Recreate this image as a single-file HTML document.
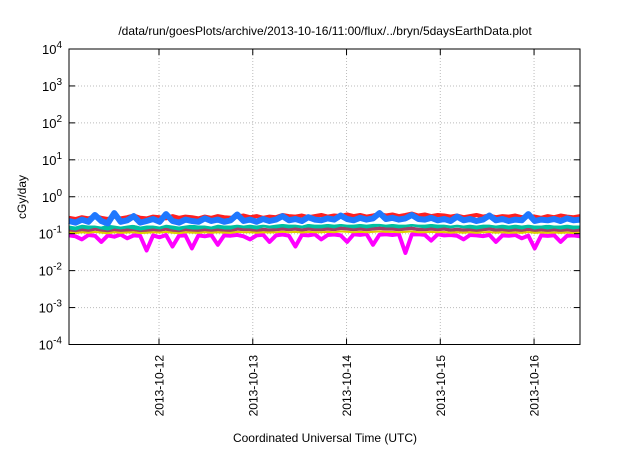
<!DOCTYPE html>
<html><head><meta charset="utf-8"><style>
body{margin:0;background:#fff;}
svg text{font-family:"Liberation Sans",sans-serif;fill:#000;}
</style></head><body>
<svg id="chart" width="640" height="448" xmlns="http://www.w3.org/2000/svg">
<text x="325" y="35" font-size="12" text-anchor="middle">/data/run/goesPlots/archive/2013-10-16/11:00/flux/../bryn/5daysEarthData.plot</text>
<g id="grid"></g>
<g id="series"></g>
<rect x="69" y="49" width="511" height="295.5" fill="none" stroke="#000" stroke-width="1"/>
<g id="axes"></g>
<text transform="translate(26,197) rotate(-90)" font-size="12" text-anchor="middle">cGy/day</text>
<text x="325" y="442" font-size="12" text-anchor="middle">Coordinated Universal Time (UTC)</text>
</svg>
<script>
const yExps=[-4,-3,-2,-1,0,1,2,3,4];
const xTickDays=[12,13,14,15,16];
const xTickLabels=["2013-10-12","2013-10-13","2013-10-14","2013-10-15","2013-10-16"];
const xStart=11.04, xEnd=16.49;
const red=[0.27,0.25,0.28,0.26,0.30,0.27,0.25,0.29,0.26,0.28,0.31,0.27,0.26,0.29,0.28,0.26,0.30,0.27,0.29,0.28,0.26,0.29,0.27,0.30,0.28,0.27,0.29,0.31,0.28,0.30,0.27,0.29,0.28,0.32,0.30,0.29,0.31,0.28,0.30,0.32,0.29,0.31,0.30,0.33,0.30,0.32,0.29,0.31,0.34,0.31,0.33,0.30,0.32,0.35,0.31,0.33,0.30,0.32,0.31,0.29,0.31,0.28,0.30,0.32,0.29,0.31,0.28,0.30,0.29,0.31,0.28,0.30,0.29,0.27,0.30,0.28,0.31,0.29,0.28,0.30];
const blue=[0.22,0.20,0.24,0.21,0.32,0.22,0.19,0.36,0.21,0.23,0.30,0.20,0.22,0.25,0.21,0.34,0.22,0.20,0.24,0.22,0.21,0.26,0.22,0.24,0.21,0.23,0.33,0.22,0.24,0.21,0.25,0.22,0.24,0.30,0.23,0.25,0.22,0.28,0.24,0.23,0.26,0.24,0.31,0.25,0.23,0.27,0.24,0.26,0.36,0.25,0.27,0.24,0.26,0.32,0.25,0.24,0.27,0.23,0.25,0.22,0.29,0.23,0.25,0.22,0.24,0.31,0.23,0.25,0.22,0.24,0.23,0.34,0.22,0.24,0.23,0.25,0.22,0.26,0.23,0.24];
const white=[0.18,0.17,0.19,0.18,0.18,0.17,0.19,0.18,0.17,0.18,0.19,0.17,0.18,0.18,0.17,0.19,0.18,0.17,0.18,0.19,0.18,0.18,0.17,0.19,0.18,0.18,0.19,0.18,0.19,0.18,0.19,0.18,0.19,0.20,0.19,0.19,0.18,0.20,0.19,0.19,0.20,0.19,0.20,0.19,0.19,0.20,0.19,0.20,0.20,0.19,0.20,0.19,0.19,0.20,0.19,0.19,0.20,0.19,0.19,0.18,0.19,0.18,0.19,0.18,0.19,0.19,0.18,0.19,0.18,0.19,0.18,0.19,0.18,0.18,0.19,0.18,0.18,0.19,0.18,0.18];
const teal=[0.15,0.14,0.16,0.15,0.17,0.15,0.14,0.16,0.15,0.16,0.15,0.14,0.15,0.16,0.15,0.17,0.15,0.14,0.16,0.15,0.15,0.16,0.15,0.16,0.15,0.15,0.17,0.16,0.16,0.15,0.17,0.16,0.16,0.17,0.16,0.17,0.16,0.17,0.16,0.16,0.17,0.16,0.18,0.17,0.16,0.17,0.16,0.17,0.18,0.17,0.17,0.16,0.17,0.18,0.17,0.16,0.17,0.16,0.17,0.16,0.17,0.16,0.16,0.15,0.16,0.17,0.16,0.16,0.15,0.16,0.15,0.17,0.15,0.16,0.15,0.16,0.15,0.16,0.15,0.16];
const purple=[0.125,0.12,0.13,0.12,0.135,0.125,0.115,0.13,0.12,0.125,0.13,0.12,0.12,0.13,0.125,0.135,0.12,0.115,0.13,0.125,0.12,0.13,0.12,0.13,0.125,0.12,0.135,0.13,0.13,0.12,0.13,0.125,0.13,0.135,0.13,0.135,0.125,0.135,0.13,0.13,0.135,0.13,0.14,0.135,0.13,0.135,0.13,0.135,0.14,0.135,0.135,0.13,0.135,0.14,0.13,0.13,0.135,0.13,0.135,0.125,0.13,0.125,0.13,0.12,0.13,0.135,0.125,0.13,0.12,0.13,0.12,0.135,0.12,0.13,0.12,0.13,0.12,0.13,0.12,0.125];
const yellow=[0.108,0.104,0.11,0.105,0.112,0.107,0.103,0.11,0.105,0.108,0.11,0.104,0.106,0.11,0.107,0.112,0.106,0.103,0.109,0.107,0.105,0.11,0.106,0.109,0.107,0.105,0.112,0.109,0.11,0.106,0.11,0.108,0.11,0.113,0.109,0.112,0.108,0.112,0.11,0.109,0.112,0.11,0.115,0.112,0.109,0.112,0.11,0.112,0.115,0.112,0.112,0.109,0.112,0.115,0.11,0.109,0.112,0.109,0.111,0.106,0.11,0.106,0.109,0.105,0.109,0.111,0.106,0.109,0.105,0.108,0.105,0.111,0.105,0.108,0.105,0.108,0.105,0.108,0.104,0.107];
const magenta=[0.09,0.085,0.07,0.092,0.088,0.06,0.09,0.083,0.095,0.075,0.09,0.087,0.035,0.09,0.08,0.092,0.045,0.088,0.09,0.04,0.09,0.085,0.092,0.05,0.09,0.088,0.093,0.085,0.07,0.09,0.094,0.06,0.09,0.095,0.088,0.045,0.093,0.09,0.096,0.07,0.092,0.095,0.09,0.06,0.096,0.093,0.098,0.05,0.094,0.096,0.092,0.097,0.03,0.095,0.097,0.093,0.065,0.096,0.09,0.092,0.088,0.07,0.092,0.09,0.086,0.093,0.06,0.09,0.088,0.092,0.075,0.089,0.04,0.09,0.087,0.091,0.06,0.088,0.09,0.085];
const L=69,R=580,T=49,B=344.5;
function xs(d){return L+(d-xStart)/(xEnd-xStart)*(R-L);}
function ys(v){return T+(4-Math.log10(v))/8*(B-T);}
const NS="http://www.w3.org/2000/svg";
function mk(tag,attrs,parent){const e=document.createElementNS(NS,tag);for(const k in attrs)e.setAttribute(k,attrs[k]);parent.appendChild(e);return e;}
const grid=document.getElementById('grid'),axes=document.getElementById('axes'),ser=document.getElementById('series');
yExps.forEach(p=>{const y=ys(Math.pow(10,p));
 if(p>-4&&p<4){const g=mk('line',{x1:L,x2:R,y1:y,y2:y,stroke:'#bbb','stroke-dasharray':'1,2'},grid);
 
 }
 const t1=mk('line',{x1:L,x2:L+6,y1:y,y2:y,stroke:'#000'},axes);
 
 
 const t2=mk('line',{x1:R-6,x2:R,y1:y,y2:y,stroke:'#000'},axes);
 
 
 const tx=mk('text',{x:L-7,y:y+5,'font-size':'13','text-anchor':'end'},axes);
 
 
 tx.textContent='10';
 const s=mk('tspan',{dy:'-6','font-size':'10'},tx);s.textContent=String(p);
});
xTickDays.forEach((d,i)=>{const x=xs(d);
 const g=mk('line',{x1:x,x2:x,y1:T,y2:B,stroke:'#bbb','stroke-dasharray':'1,2'},grid);
 
 
 const t1=mk('line',{x1:x,x2:x,y1:B-6,y2:B,stroke:'#000'},axes);
 
 
 const t2=mk('line',{x1:x,x2:x,y1:T,y2:T+6,stroke:'#000'},axes);
 
 
 const tx=mk('text',{transform:`translate(${x+4.5},355) rotate(-90)`,'font-size':'12','text-anchor':'end'},axes);
 
 
 tx.textContent=xTickLabels[i];
});
const seriesList=[[magenta,'#ff00ff',4,'magenta'],[purple,'#a0406a',3.5,'purple'],[yellow,'#e0d000',2,'yellow'],[teal,'#00c0a0',4.5,'teal'],[white,'#ffffff',2.5,'white'],[red,'#ff2020',4,'red'],[blue,'#1e78ff',6,'blue']];
seriesList.forEach(([arr,col,w,nm])=>{
 const pts=arr.map((v,i)=>xs(xStart+i/(arr.length-1)*(xEnd-xStart)).toFixed(1)+','+ys(v).toFixed(1)).join(' ');
 const p=mk('polyline',{points:pts,fill:'none',stroke:col,'stroke-width':w,'stroke-linejoin':'round'},ser);
 
 
});
</script>
</body></html>
